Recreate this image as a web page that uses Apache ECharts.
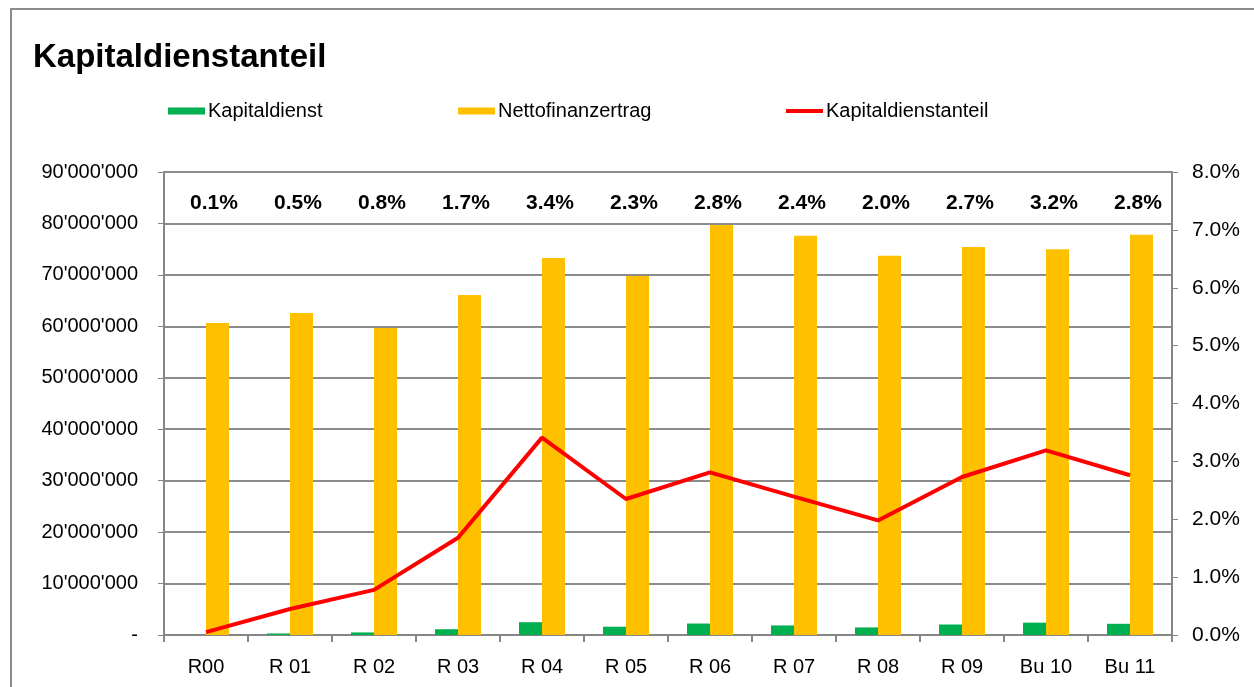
<!DOCTYPE html>
<html>
<head>
<meta charset="utf-8">
<script src="https://cdn.jsdelivr.net/npm/echarts@6/dist/echarts.min.js"></script>
<style>
    html, body { margin: 0; padding: 0; background: #fff; }
    #frame { position: absolute; left: 10px; top: 8px; width: 1300px; height: 700px; border: 2px solid #8c8c8c; box-sizing: border-box; }
    #main { position: absolute; left: 0; top: 0; width: 1254px; height: 687px; }
</style>
</head>
<body>
<div id="frame"></div>
<div id="main"></div>
<script>
    // Jahre / Rechnungen
    var categories = ['R00', 'R 01', 'R 02', 'R 03', 'R 04', 'R 05', 'R 06', 'R 07', 'R 08', 'R 09', 'Bu 10', 'Bu 11'];
    // Kapitaldienst (CHF)
    var kapitaldienst = [-300000, 300000, 500000, 1120000, 2490000, 1610000, 2230000, 1860000, 1470000, 2040000, 2400000, 2180000];
    // Nettofinanzertrag (CHF)
    var nettofinanzertrag = [60650000, 62600000, 59700000, 66100000, 73300000, 69800000, 79700000, 77600000, 73700000, 75400000, 75000000, 77800000];
    // Kapitaldienstanteil in %
    var anteil = [0.05, 0.45, 0.78, 1.68, 3.41, 2.35, 2.81, 2.39, 1.98, 2.73, 3.19, 2.76];
    // Beschriftung oben
    var anteilLabels = ['0.1%', '0.5%', '0.8%', '1.7%', '3.4%', '2.3%', '2.8%', '2.4%', '2.0%', '2.7%', '3.2%', '2.8%'];

    var FONT = '"Liberation Sans", Arial, sans-serif';
    var axisGray = '#868686';

    function chf(v) {
        if (v === 0) return '-';
        return String(v).replace(/\B(?=(\d{3})+(?!\d))/g, "'");
    }

    var myChart = echarts.init(document.getElementById('main'), null, {renderer: 'canvas'});
    myChart.setOption({
        animation: false,
        textStyle: {fontFamily: FONT},
        title: {
            text: 'Kapitaldienstanteil',
            left: 28,
            top: 36,
            textStyle: {fontSize: 33, fontWeight: 'bold', color: '#000', fontFamily: FONT}
        },
        legend: [
            {data: ['Kapitaldienst'], left: 163, top: 96},
            {data: ['Nettofinanzertrag'], left: 453, top: 96},
            {data: ['Kapitaldienstanteil'], left: 781, top: 96, itemHeight: 4}
        ].map(function (l) {
            return Object.assign({
                icon: 'rect',
                itemWidth: 37,
                itemHeight: 7,
                itemGap: 0,
                textStyle: {fontSize: 20, color: '#000', fontFamily: FONT, padding: [0, 0, 0, -2]}
            }, l);
        }),
        grid: {left: 164, right: 82, top: 172, bottom: 52, containLabel: false},
        xAxis: [
            {
                type: 'category',
                data: categories,
                axisLine: {lineStyle: {color: axisGray, width: 2}},
                axisTick: {show: true, length: 7, lineStyle: {color: axisGray, width: 2}},
                axisLabel: {fontSize: 20, color: '#000', margin: 22}
            },
            {
                type: 'category',
                position: 'top',
                data: anteilLabels,
                axisLine: {show: false},
                axisTick: {show: false},
                axisLabel: {inside: true, margin: 21, fontSize: 21, fontWeight: 'bold', color: '#000', padding: [0, 0, 0, 16]}
            }
        ],
        yAxis: [
            {
                type: 'value',
                min: 0,
                max: 90000000,
                interval: 10000000,
                axisLine: {show: true, lineStyle: {color: axisGray, width: 2}},
                axisTick: {show: true, length: 6, lineStyle: {color: axisGray, width: 1}},
                axisLabel: {fontSize: 20, color: '#000', margin: 26, formatter: chf},
                splitLine: {lineStyle: {color: '#8c8c8c', width: 2}}
            },
            {
                type: 'value',
                min: 0,
                max: 8,
                interval: 1,
                position: 'right',
                axisLine: {show: true, lineStyle: {color: axisGray, width: 2}},
                axisTick: {show: true, length: 6, lineStyle: {color: axisGray, width: 1}},
                axisLabel: {fontSize: 21, color: '#000', margin: 20, formatter: function (v) { return v.toFixed(1) + '%'; }},
                splitLine: {show: false}
            }
        ],
        series: [
            {
                name: 'Kapitaldienst',
                type: 'bar',
                barWidth: 23,
                barGap: '0%',
                itemStyle: {color: '#00B050'},
                data: kapitaldienst
            },
            {
                name: 'Nettofinanzertrag',
                type: 'bar',
                barWidth: 23,
                barGap: '0%',
                itemStyle: {color: '#FFC000'},
                data: nettofinanzertrag
            },
            {
                name: 'Kapitaldienstanteil',
                type: 'line',
                yAxisIndex: 1,
                symbol: 'none',
                lineStyle: {color: '#FF0000', width: 4},
                itemStyle: {color: '#FF0000'},
                data: anteil
            }
        ]
    });
</script>
</body>
</html>
